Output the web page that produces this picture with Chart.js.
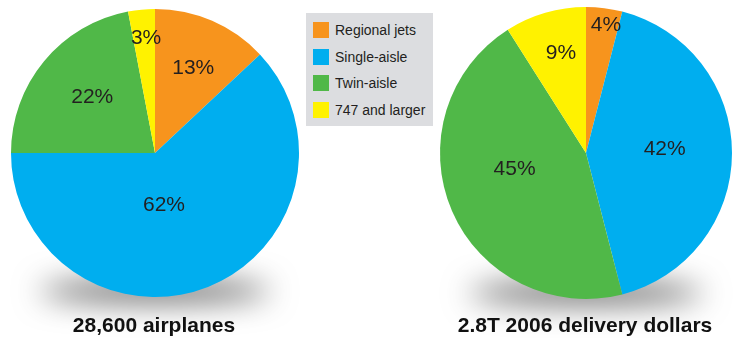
<!DOCTYPE html>
<html>
<head>
<meta charset="utf-8">
<script src="https://cdn.jsdelivr.net/npm/chart.js@4/dist/chart.umd.min.js"></script>
<style>
  html, body { margin: 0; padding: 0; background: #fff; }
  #wrap { position: relative; width: 737px; height: 338px; overflow: hidden; font-family: "Liberation Sans", Arial, sans-serif; }
  canvas.layer { position: absolute; left: 0; top: 0; }
  #legend { position: absolute; left: 306px; top: 13px; width: 127px; height: 113px; background: #dcdde0; }
  .item { position: absolute; left: 7px; height: 16px; font-size: 14px; line-height: 16px; color: #231f20; white-space: nowrap; }
  .item span.sw { position: absolute; left: 0; top: 0; width: 16px; height: 16px; }
  .item span.tx { position: absolute; left: 22px; top: 0; }
  .caption { position: absolute; top: 313px; font-size: 21px; font-weight: bold; line-height: 24px; color: #111; text-align: center; width: 300px; white-space: nowrap; }
</style>
</head>
<body>
<div id="wrap">
  <canvas id="c1" class="layer" width="737" height="338"></canvas>
  <canvas id="c2" class="layer" width="737" height="338"></canvas>
  <div id="legend"></div>
  <div class="caption" id="cap1" style="left:4px"></div>
  <div class="caption" id="cap2" style="left:435px"></div>
</div>
<script>
// ---- data ----
const categories = ["Regional jets", "Single-aisle", "Twin-aisle", "747 and larger"];
const airplaneShares = [13, 62, 22, 3];
const dollarShares = [4, 42, 45, 9];
const captions = ["28,600 airplanes", "2.8T 2006 delivery dollars"];
const colors = ["#f7941d", "#00aeef", "#50b848", "#fff200"];

// label placement: [fraction of radius, angle nudge in degrees]
const labelPlace1 = [[0.65, 0.7], [0.36, 11.6], [0.59, 2.8], [0.81, 1.0]];
const labelPlace2 = [[0.89, 1.6], [0.54, -3.6], [0.50, 11.4], [0.71, 2.2]];

// legend
const legend = document.getElementById('legend');
categories.forEach((c, i) => {
  const d = document.createElement('div');
  d.className = 'item';
  d.style.top = (9 + i * 26.5) + 'px';
  d.innerHTML = '<span class="sw" style="background:' + colors[i] + '"></span><span class="tx"></span>';
  d.querySelector('.tx').textContent = c;
  legend.appendChild(d);
});
document.getElementById('cap1').textContent = captions[0];
document.getElementById('cap2').textContent = captions[1];

const shadowPlugin = {
  id: 'pieShadow',
  beforeDatasetsDraw(chart) {
    const arc = chart.getDatasetMeta(0).data[0];
    if (!arc) return;
    const ctx = chart.ctx;
    const cx = arc.x, cy = arc.y, r = arc.outerRadius;
    ctx.save();
    ctx.shadowColor = 'rgba(0,0,0,0.62)';
    ctx.shadowBlur = 30;
    ctx.shadowOffsetX = 0;
    ctx.shadowOffsetY = 1000;
    ctx.fillStyle = '#000';
    ctx.beginPath();
    ctx.ellipse(cx, cy + r - 6 - 1000, r * 0.8, 11, 0, 0, Math.PI * 2);
    ctx.fill();
    ctx.restore();
  }
};

const pctPlugin = {
  id: 'pctLabels',
  afterDatasetsDraw(chart, args, opts) {
    const meta = chart.getDatasetMeta(0);
    const ctx = chart.ctx;
    const data = chart.data.datasets[0].data;
    ctx.save();
    ctx.font = '21px "Liberation Sans", Arial, sans-serif';
    ctx.fillStyle = '#231f20';
    ctx.textAlign = 'center';
    ctx.textBaseline = 'middle';
    meta.data.forEach((arc, i) => {
      const p = opts.place[i];
      const mid = (arc.startAngle + arc.endAngle) / 2 + p[1] * Math.PI / 180;
      const rr = arc.outerRadius * p[0];
      const x = arc.x + Math.cos(mid) * rr;
      const y = arc.y + Math.sin(mid) * rr;
      ctx.fillText(data[i] + '%', x, y + 1);
    });
    ctx.restore();
  }
};

function makePie(id, values, padding, place) {
  return new Chart(document.getElementById(id), {
    type: 'pie',
    data: {
      labels: categories,
      datasets: [{ data: values, backgroundColor: colors, borderWidth: 0 }]
    },
    options: {
      responsive: false,
      animation: false,
      layout: { padding: padding },
      plugins: {
        legend: { display: false },
        tooltip: { enabled: false },
        pctLabels: { place: place }
      }
    },
    plugins: [shadowPlugin, pctPlugin]
  });
}

makePie('c1', airplaneShares, { left: 11, right: 438, top: 9, bottom: 41 }, labelPlace1);
makePie('c2', dollarShares, { left: 440, right: 5, top: 7, bottom: 39 }, labelPlace2);
</script>
</body>
</html>
